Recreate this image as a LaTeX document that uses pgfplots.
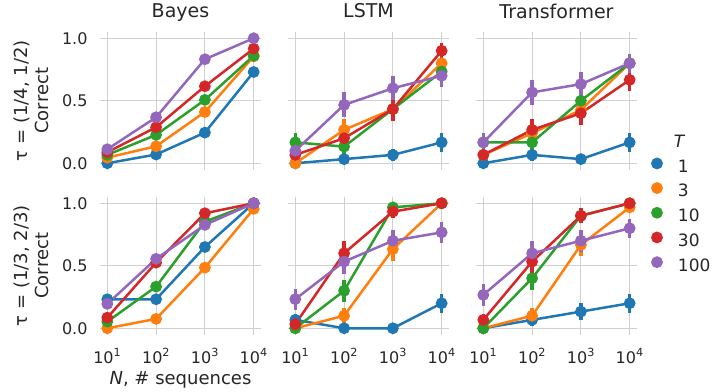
\documentclass[border=0pt]{standalone}
\usepackage{fontspec}
\setmainfont{DejaVu Sans}
\usepackage{pgfplots}
\pgfplotsset{compat=1.18}
\usepgfplotslibrary{groupplots}
\definecolor{c1}{HTML}{1F77B4}
\definecolor{c2}{HTML}{FF7F0E}
\definecolor{c3}{HTML}{2CA02C}
\definecolor{c4}{HTML}{D62728}
\definecolor{c5}{HTML}{9467BD}
\definecolor{txt}{HTML}{262626}
\definecolor{gridc}{HTML}{D0D0D0}
\pgfplotsset{
  serb/.style={color=#1, line width=2.5pt, mark=*, mark size=4.6pt, mark options={solid}},
  ser/.style={color=#1, line width=2.5pt, mark=*, mark size=4.6pt, mark options={solid},
    error bars/.cd, y dir=both, y explicit, error mark=none,
    error bar style={line width=3.5pt, color=#1}},
}
\begin{document}
\begin{tikzpicture}
\begin{groupplot}[
  group style={group size=3 by 2, horizontal sep=27pt, vertical sep=27.5pt,
    xticklabels at=edge bottom, yticklabels at=edge left},
  width=161pt, height=137.5pt, scale only axis,
  xmin=0.85, xmax=4.15, ymin=-0.05, ymax=1.05,
  xtick={1,2,3,4}, ytick={0,0.5,1},
  xticklabels={10\textsuperscript{1},10\textsuperscript{2},10\textsuperscript{3},10\textsuperscript{4}},
  yticklabels={0.0,0.5,1.0},
  grid=major, grid style={line width=1.2pt, color=gridc},
  axis line style={draw=none}, major tick length=0pt,
  tick label style={font=\fontsize{16}{19}\selectfont, text=txt},
  xticklabel style={anchor=base, yshift=-28.5pt},
  yticklabel style={anchor=east, xshift=-9pt},
  label style={font=\fontsize{18}{21}\selectfont, text=txt},
  ylabel style={at={(axis description cs:-0.424,0.5)}, anchor=center, align=center},
  xlabel style={at={(axis description cs:0.5,-0.331)}, anchor=center},
  title style={font=\fontsize{19}{22}\selectfont, text=txt, at={(axis description cs:0.5,1)}, anchor=base, yshift=8pt},
  legend image code/.code={\fill[#1] (0pt,0.33em) circle (4.6pt); \path[draw=none,fill=none] (-4.6pt,0.33em) -- (19pt,0.33em);},
]
% ---------- row 1 Bayes
\nextgroupplot[title={Bayes}, ylabel={τ = (1/4, 1/2)\\Correct}]
\addplot[serb=c1] table[row sep=\\] {x y\\ 1 0.0\\ 2 0.07\\ 3 0.245\\ 4 0.73\\};
\addplot[serb=c2] table[row sep=\\] {x y\\ 1 0.045\\ 2 0.136\\ 3 0.41\\ 4 0.855\\};
\addplot[serb=c3] table[row sep=\\] {x y\\ 1 0.067\\ 2 0.227\\ 3 0.507\\ 4 0.86\\};
\addplot[serb=c4] table[row sep=\\] {x y\\ 1 0.088\\ 2 0.288\\ 3 0.616\\ 4 0.917\\};
\addplot[serb=c5] table[row sep=\\] {x y\\ 1 0.112\\ 2 0.368\\ 3 0.832\\ 4 1.0\\};
% ---------- row 1 LSTM
\nextgroupplot[title={LSTM}]
\addplot[ser=c1] table[row sep=\\, y error=e] {x y e\\ 1 0.0 0\\ 2 0.033 0.035\\ 3 0.067 0.05\\ 4 0.167 0.075\\};
\addplot[ser=c2] table[row sep=\\, y error=e] {x y e\\ 1 0.0 0\\ 2 0.267 0.087\\ 3 0.433 0.097\\ 4 0.8 0.078\\};
\addplot[ser=c3] table[row sep=\\, y error=e] {x y e\\ 1 0.167 0.073\\ 2 0.133 0.067\\ 3 0.433 0.097\\ 4 0.733 0.087\\};
\addplot[ser=c4] table[row sep=\\, y error=e] {x y e\\ 1 0.067 0.05\\ 2 0.2 0.078\\ 3 0.433 0.097\\ 4 0.9 0.06\\};
\addplot[ser=c5] table[row sep=\\, y error=e] {x y e\\ 1 0.1 0.06\\ 2 0.467 0.1\\ 3 0.6 0.096\\ 4 0.7 0.09\\};
% ---------- row 1 Transformer
\nextgroupplot[title={Transformer},
  legend style={at={(1.068,-0.25)}, anchor=west, draw=none, fill=none,
    font=\fontsize{17}{20}\selectfont, text=txt, row sep=6.5pt},
  legend cell align=left]
\addlegendimage{empty legend}\addlegendentry{\hspace{-4pt}\textit{T}}
\addplot[ser=c1] table[row sep=\\, y error=e] {x y e\\ 1 0.0 0\\ 2 0.067 0.05\\ 3 0.033 0.035\\ 4 0.167 0.075\\};
\addlegendentry{1}
\addplot[ser=c2] table[row sep=\\, y error=e] {x y e\\ 1 0.067 0.05\\ 2 0.24 0.085\\ 3 0.427 0.097\\ 4 0.8 0.078\\};
\addlegendentry{3}
\addplot[ser=c3] table[row sep=\\, y error=e] {x y e\\ 1 0.167 0.073\\ 2 0.167 0.073\\ 3 0.5 0.098\\ 4 0.8 0.078\\};
\addlegendentry{10}
\addplot[ser=c4] table[row sep=\\, y error=e] {x y e\\ 1 0.067 0.05\\ 2 0.267 0.087\\ 3 0.4 0.096\\ 4 0.667 0.092\\};
\addlegendentry{30}
\addplot[ser=c5] table[row sep=\\, y error=e] {x y e\\ 1 0.167 0.073\\ 2 0.567 0.097\\ 3 0.633 0.094\\ 4 0.8 0.078\\};
\addlegendentry{100}
% ---------- row 2 Bayes
\nextgroupplot[ylabel={τ = (1/3, 2/3)\\Correct},
  xlabel={\textit{N}, \# sequences}]
\addplot[serb=c1] table[row sep=\\] {x y\\ 1 0.232\\ 2 0.232\\ 3 0.65\\ 4 1.0\\};
\addplot[serb=c2] table[row sep=\\] {x y\\ 1 0.0\\ 2 0.075\\ 3 0.485\\ 4 0.955\\};
\addplot[serb=c3] table[row sep=\\] {x y\\ 1 0.053\\ 2 0.333\\ 3 0.853\\ 4 1.0\\};
\addplot[serb=c4] table[row sep=\\] {x y\\ 1 0.085\\ 2 0.525\\ 3 0.92\\ 4 1.0\\};
\addplot[serb=c5] table[row sep=\\] {x y\\ 1 0.195\\ 2 0.555\\ 3 0.827\\ 4 1.0\\};
% ---------- row 2 LSTM
\nextgroupplot
\addplot[ser=c1] table[row sep=\\, y error=e] {x y e\\ 1 0.067 0.05\\ 2 0.0 0\\ 3 0.0 0\\ 4 0.2 0.078\\};
\addplot[ser=c2] table[row sep=\\, y error=e] {x y e\\ 1 0.0 0\\ 2 0.1 0.06\\ 3 0.633 0.094\\ 4 1.0 0\\};
\addplot[ser=c3] table[row sep=\\, y error=e] {x y e\\ 1 0.0 0\\ 2 0.3 0.09\\ 3 0.967 0.035\\ 4 1.0 0\\};
\addplot[ser=c4] table[row sep=\\, y error=e] {x y e\\ 1 0.033 0.035\\ 2 0.6 0.096\\ 3 0.933 0.05\\ 4 1.0 0\\};
\addplot[ser=c5] table[row sep=\\, y error=e] {x y e\\ 1 0.233 0.083\\ 2 0.533 0.098\\ 3 0.7 0.09\\ 4 0.767 0.083\\};
% ---------- row 2 Transformer
\nextgroupplot
\addplot[ser=c1] table[row sep=\\, y error=e] {x y e\\ 1 0.0 0\\ 2 0.067 0.05\\ 3 0.133 0.067\\ 4 0.2 0.078\\};
\addplot[ser=c2] table[row sep=\\, y error=e] {x y e\\ 1 0.0 0\\ 2 0.1 0.06\\ 3 0.667 0.092\\ 4 0.967 0.035\\};
\addplot[ser=c3] table[row sep=\\, y error=e] {x y e\\ 1 0.0 0\\ 2 0.4 0.096\\ 3 0.9 0.06\\ 4 1.0 0\\};
\addplot[ser=c4] table[row sep=\\, y error=e] {x y e\\ 1 0.067 0.05\\ 2 0.533 0.098\\ 3 0.9 0.06\\ 4 1.0 0\\};
\addplot[ser=c5] table[row sep=\\, y error=e] {x y e\\ 1 0.267 0.087\\ 2 0.6 0.096\\ 3 0.7 0.09\\ 4 0.8 0.078\\};
\end{groupplot}
\pgfresetboundingbox
\path[use as bounding box] ([shift={(-100pt,32pt)}]group c1r1.north west) rectangle ([shift={(623pt,-359pt)}]group c1r1.north west);
\end{tikzpicture}
\end{document}
